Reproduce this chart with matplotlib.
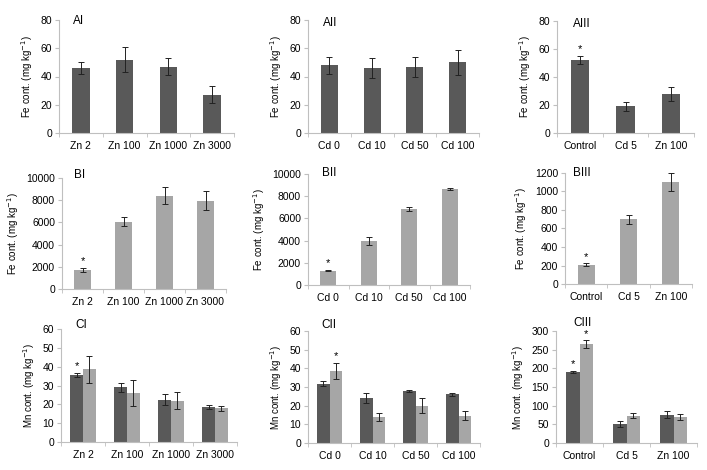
import numpy as np
import matplotlib
matplotlib.use("Agg")
import matplotlib.pyplot as plt

plt.rcParams['font.family'] = ['Liberation Sans', 'DejaVu Sans']

# ---- data ----
zn_cats = ["Zn 2", "Zn 100", "Zn 1000", "Zn 3000"]
cd_cats = ["Cd 0", "Cd 10", "Cd 50", "Cd 100"]
ctl_cats = ["Control", "Cd 5", "Zn 100"]

ai_val = [46, 52, 47, 27]
ai_err = [4, 9, 6, 6]
aii_val = [48, 46, 47, 50]
aii_err = [6, 7, 7, 9]
aiii_val = [52, 19, 28]
aiii_err = [3, 3, 5]

bi_val = [1700, 6050, 8400, 7950]
bi_err = [200, 400, 750, 850]
bii_val = [1300, 3950, 6850, 8650]
bii_err = [80, 350, 180, 120]
biii_val = [210, 700, 1100]
biii_err = [12, 50, 100]

ci_dark = [35.5, 29, 22.5, 18.5]
ci_dark_err = [1.2, 2.5, 3, 1]
ci_light = [38.5, 26, 22, 17.8]
ci_light_err = [7, 7, 4.5, 1.3]
cii_dark = [31.8, 24.2, 27.8, 26]
cii_dark_err = [1.2, 2.8, 0.7, 1]
cii_light = [38.8, 14, 20, 14.7]
cii_light_err = [4.3, 2, 4, 2.3]
ciii_dark = [190, 51, 76]
ciii_dark_err = [3, 8, 9]
ciii_light = [265, 73, 70]
ciii_light_err = [10, 7, 8]

DARK = "#595959"
LIGHT = "#a6a6a6"
AXC = "#bfbfbf"

W, H = 707, 470
fig = plt.figure(figsize=(W / 100, H / 100), dpi=100)


def make_ax(x0, y0, x1, y1):
    # pixel box -> figure fraction
    return fig.add_axes([x0 / W, 1 - y1 / H, (x1 - x0) / W, (y1 - y0) / H])


def panel(box, cats, series, ymax, ystep, label, ylabel, stars=(), lab_off=(12, 0)):
    ax = make_ax(*box)
    n = len(cats)
    x = np.arange(n)
    ns = len(series)
    bw = 1 / (ns + 1.5)
    for i, (vals, errs, col) in enumerate(series):
        pos = x + (i - (ns - 1) / 2) * bw
        ax.bar(pos, vals, bw, color=col, zorder=2)
        ax.errorbar(pos, vals, yerr=errs, fmt="none", ecolor="#222222",
                    elinewidth=0.7, capsize=2, capthick=0.7, zorder=3)
    for (ci, si) in stars:
        vals, errs, _ = series[si]
        pos = ci + (si - (ns - 1) / 2) * bw
        ax.text(pos, vals[ci] + errs[ci] + ymax * 0.015, "*", ha="center",
                va="bottom", fontsize=8)
    ax.set_xlim(-0.5, n - 0.5)
    ax.set_ylim(0, ymax)
    ax.set_yticks(np.arange(0, ymax + ystep / 2, ystep))
    ax.set_xticks(x)
    ax.set_xticklabels(cats)
    ax.set_xticks(np.arange(-0.5, n, 1), minor=True)
    ax.tick_params(axis="x", which="major", length=0, labelsize=7.5, pad=6)
    ax.tick_params(axis="x", which="minor", length=3, color=AXC)
    ax.tick_params(axis="y", length=3, color=AXC, labelsize=7.5, pad=2)
    for s in ["top", "right"]:
        ax.spines[s].set_visible(False)
    for s in ["left", "bottom"]:
        ax.spines[s].set_color(AXC)
        ax.spines[s].set_linewidth(0.8)
    ax.set_ylabel(ylabel, fontsize=7, labelpad=4)
    # panel letter near the top edge of the plot area (offset in pixels)
    ax.annotate(label, xy=(0, 1), xycoords="axes fraction",
                xytext=(lab_off[0] * 0.72, lab_off[1] * 0.72),
                textcoords="offset points",
                fontsize=8.5, ha="left", va="center")
    return ax


fe = "Fe cont. (mg kg$^{-1}$)"
mn = "Mn cont. (mg kg$^{-1}$)"

panel((59, 20, 234, 133), zn_cats, [(ai_val, ai_err, DARK)], 80, 20, "AI", fe,
      lab_off=(14, -1))
panel((308, 20, 479, 133), cd_cats, [(aii_val, aii_err, DARK)], 80, 20, "AII", fe,
      lab_off=(15, -3))
panel((557, 21, 694, 133), ctl_cats, [(aiii_val, aiii_err, DARK)], 80, 20, "AIII", fe,
      stars=[(0, 0)], lab_off=(16, -3))

panel((62, 178, 226, 289), zn_cats, [(bi_val, bi_err, LIGHT)], 10000, 2000, "BI", fe,
      stars=[(0, 0)], lab_off=(12, 3))
panel((308, 174, 470, 285), cd_cats, [(bii_val, bii_err, LIGHT)], 10000, 2000, "BII", fe,
      stars=[(0, 0)], lab_off=(14, 1))
panel((565, 173, 692, 284), ctl_cats, [(biii_val, biii_err, LIGHT)], 1200, 200, "BIII", fe,
      stars=[(0, 0)], lab_off=(8, 0))

panel((61, 329, 237, 442), zn_cats,
      [(ci_dark, ci_dark_err, DARK), (ci_light, ci_light_err, LIGHT)],
      60, 10, "CI", mn, stars=[(0, 0)], lab_off=(14, 4))
panel((308, 331, 480, 443), cd_cats,
      [(cii_dark, cii_dark_err, DARK), (cii_light, cii_light_err, LIGHT)],
      60, 10, "CII", mn, stars=[(0, 1)], lab_off=(13, 6))
panel((556, 331, 697, 443), ctl_cats,
      [(ciii_dark, ciii_dark_err, DARK), (ciii_light, ciii_light_err, LIGHT)],
      300, 50, "CIII", mn, stars=[(0, 0), (0, 1)], lab_off=(17, 8))

fig.savefig("out.png", dpi=100, facecolor="white")
